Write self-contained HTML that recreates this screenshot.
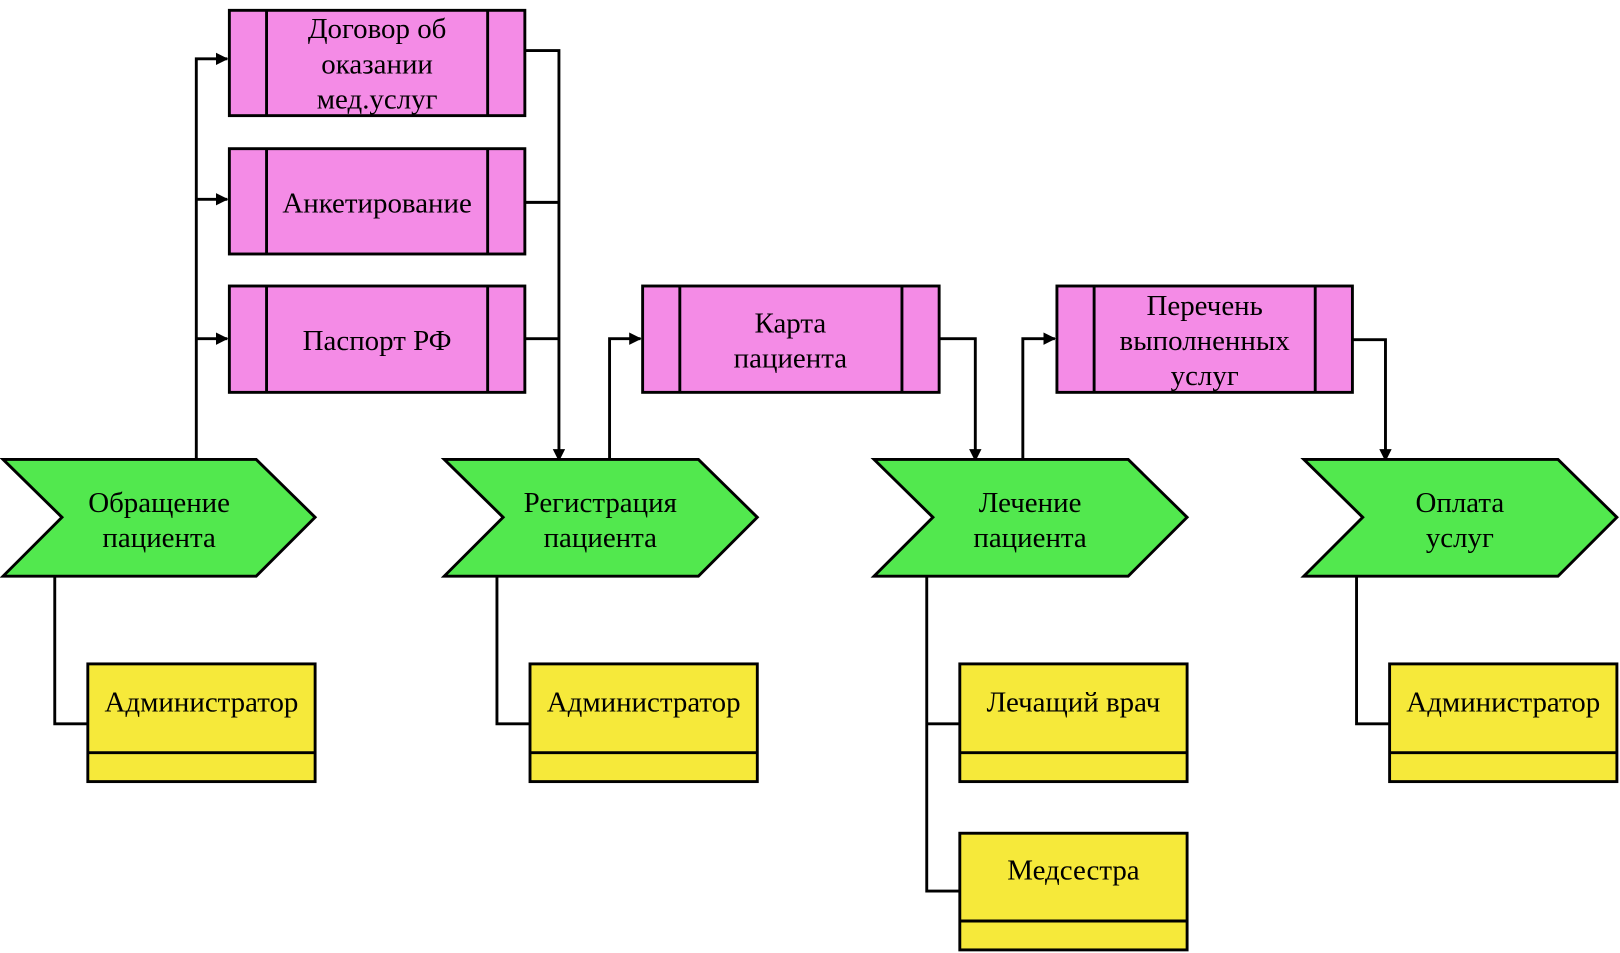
<!DOCTYPE html>
<html><head><meta charset="utf-8"><style>
html,body{margin:0;padding:0;background:#fff;}
svg{display:block;}
text{font-family:"Liberation Serif",serif;font-size:28px;fill:#000;text-anchor:middle;}
</style></head><body>
<svg width="1620" height="953" viewBox="0 0 1568 923" preserveAspectRatio="none" xmlns="http://www.w3.org/2000/svg">
<defs><marker id="a" markerWidth="12" markerHeight="12" refX="11" refY="6" orient="auto" markerUnits="userSpaceOnUse"><path d="M0,0 L12,6 L0,12 z" fill="#000"/></marker></defs>
<g fill="none" stroke="#000" stroke-width="2.8">
<path d="M190,445 V57 H220" marker-end="url(#a)"/>
<path d="M190,193 H220" marker-end="url(#a)"/>
<path d="M190,328 H220" marker-end="url(#a)"/>
<path d="M508,49 H541 V446" marker-end="url(#a)"/>
<path d="M508,196 H541"/><path d="M508,328 H541"/>
<path d="M590,445 V328 H620" marker-end="url(#a)"/>
<path d="M909,328 H944 V446" marker-end="url(#a)"/>
<path d="M990,445 V328 H1021" marker-end="url(#a)"/>
<path d="M1309,329 H1341 V446" marker-end="url(#a)"/>
<path d="M53,558 V701 H85"/>
<path d="M481,558 V701 H513"/>
<path d="M897,558 V863 H929 M897,701 H929"/>
<path d="M1313,558 V701 H1345"/>
</g>
<g stroke="#000" stroke-width="2.8" fill="#F48BE6">
<rect x="222" y="10" width="286" height="102"/><path d="M258,10V112M472,10V112"/>
<rect x="222" y="144" width="286" height="102"/><path d="M258,144V246M472,144V246"/>
<rect x="222" y="277" width="286" height="103"/><path d="M258,277V380M472,277V380"/>
<rect x="622" y="277" width="287" height="103"/><path d="M658,277V380M873,277V380"/>
<rect x="1023" y="277" width="286" height="103"/><path d="M1059,277V380M1273,277V380"/>
</g>
<g stroke="#000" stroke-width="2.8" fill="#52E84E">
<polygon points="3,445 248,445 305,501 248,558 3,558 60,501"/>
<polygon points="430,445 676,445 733,501 676,558 430,558 487,501"/>
<polygon points="846,445 1092,445 1149,501 1092,558 846,558 903,501"/>
<polygon points="1262,445 1508,445 1565,501 1508,558 1262,558 1319,501"/>
</g>
<g stroke="#000" stroke-width="2.8" fill="#F6E93A">
<rect x="85" y="643" width="220" height="114"/><path d="M85,729H305"/>
<rect x="513" y="643" width="220" height="114"/><path d="M513,729H733"/>
<rect x="929" y="643" width="220" height="114"/><path d="M929,729H1149"/>
<rect x="929" y="807" width="220" height="113"/><path d="M929,892H1149"/>
<rect x="1345" y="643" width="220" height="114"/><path d="M1345,729H1565"/>
</g>
<text x="365" y="37">Договор об</text><text x="365" y="71">оказании</text><text x="365" y="105">мед.услуг</text>
<text x="365" y="206">Анкетирование</text>
<text x="365" y="339">Паспорт РФ</text>
<text x="765" y="322">Карта</text><text x="765" y="356">пациента</text>
<text x="1166" y="305">Перечень</text><text x="1166" y="339">выполненных</text><text x="1166" y="373">услуг</text>
<text x="154" y="496">Обращение</text><text x="154" y="530">пациента</text>
<text x="581" y="496">Регистрация</text><text x="581" y="530">пациента</text>
<text x="997" y="496">Лечение</text><text x="997" y="530">пациента</text>
<text x="1413" y="496">Оплата</text><text x="1413" y="530">услуг</text>
<text x="195" y="689">Администратор</text>
<text x="623" y="689">Администратор</text>
<text x="1039" y="689">Лечащий врач</text>
<text x="1039" y="852">Медсестра</text>
<text x="1455" y="689">Администратор</text>
</svg>
</body></html>
